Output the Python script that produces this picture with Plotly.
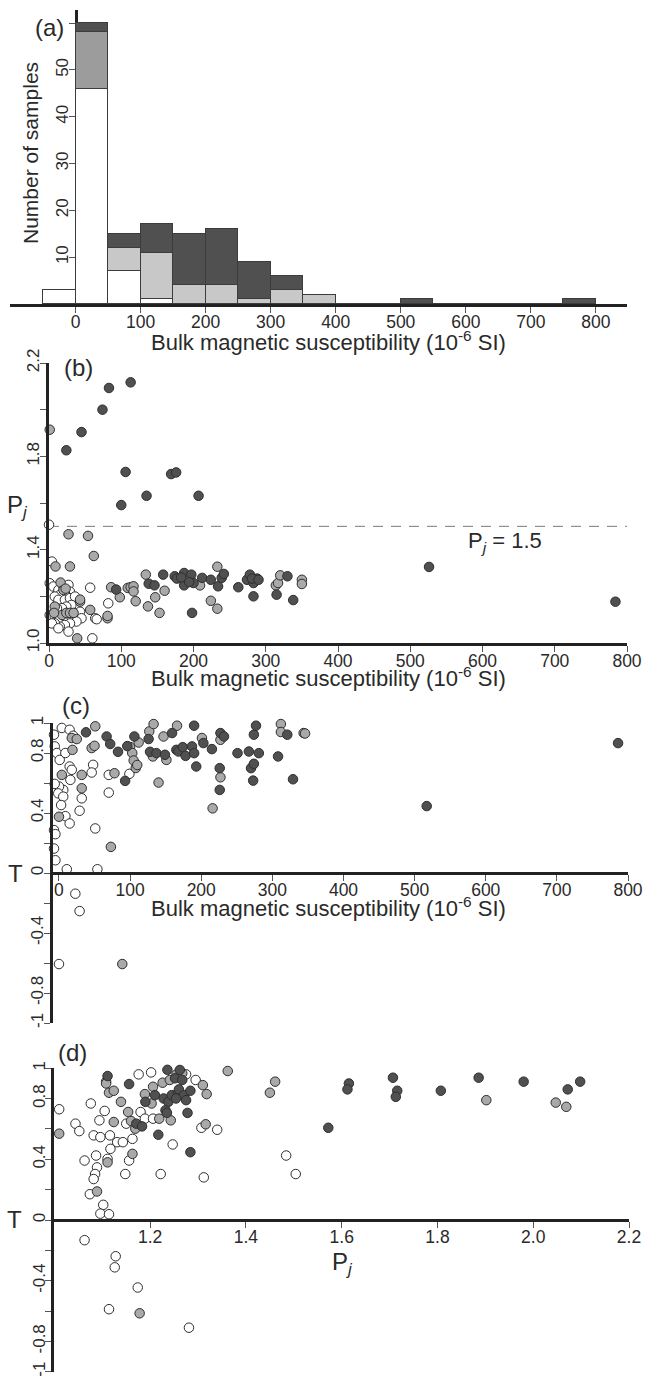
import plotly.graph_objects as go

# ---------------- data ----------------
# (a) histogram, bins of 50 (left edges)
bin_left = [-50, 0, 50, 100, 150, 200, 250, 300, 350, 400, 450, 500, 550, 600, 650, 700, 750]
bin_width = 50
hist_white = [3, 46, 7, 1, 0, 0, 0, 0, 0, 0, 0, 0, 0, 0, 0, 0, 0]
hist_gray = [0, 12, 5, 10, 4, 4, 1, 3, 2, 0, 0, 0, 0, 0, 0, 0, 0]
hist_dark = [0, 2, 3, 6, 11, 12, 8, 3, 0, 0, 0, 1, 0, 0, 0, 0, 1]
hist_ticks = [10, 20, 30, 40, 50, 60]
hist_ticktext = ["10", "20", "30", "40", "50", ""]

# (b) Km vs Pj
b_white = [(-4, 1.524), (0, 1.507), (4, 1.349), (-1, 1.32), (-8, 1.295), (1, 1.256), (-8, 1.227), (-5, 1.185),
           (6, 1.242), (13, 1.227), (20, 1.242), (27, 1.249), (29, 1.22), (22, 1.213), (15, 1.206), (8, 1.199),
           (13, 1.185), (22, 1.185), (29, 1.192), (36, 1.199), (31, 1.163), (24, 1.156), (18, 1.149), (11, 1.149),
           (6, 1.127), (1, 1.12), (8, 1.113), (15, 1.106), (22, 1.113), (29, 1.12), (36, 1.127), (43, 1.134),
           (45, 1.106), (38, 1.092), (29, 1.084), (22, 1.077), (15, 1.07), (8, 1.084), (4, 1.084), (13, 1.063),
           (27, 1.049), (57, 1.237), (82, 1.17), (64, 1.106), (66, 1.102), (60, 1.02), (-9, 1.196), (-6, 1.146)]
b_gray = [(-1, 2.076), (-1, 2.064), (1, 1.914), (27, 1.466), (54, 1.459), (62, 1.373), (29, 1.328), (9, 1.328),
          (16, 1.259), (20, 1.227), (8, 1.156), (18, 1.12), (24, 1.129), (29, 1.129), (34, 1.129), (7, 1.129),
          (43, 1.177), (57, 1.142), (39, 1.02), (81, 1.106), (81, 1.116), (86, 1.239), (98, 1.196), (109, 1.236),
          (113, 1.239), (117, 1.243), (117, 1.221), (120, 1.179), (134, 1.293), (137, 1.157), (147, 1.196),
          (153, 1.129), (160, 1.224), (209, 1.247), (224, 1.181), (233, 1.327), (233, 1.147), (314, 1.247),
          (317, 1.257), (320, 1.29), (350, 1.271), (350, 1.253), (23, 1.233), (43, 1.186)]
b_dark = [(83, 2.093), (113, 2.117), (74, 2.0), (45, 1.904), (24, 1.826), (106, 1.733), (169, 1.724), (176, 1.731),
          (135, 1.631), (207, 1.631), (100, 1.591), (526, 1.326), (784, 1.177), (93, 1.229), (138, 1.254),
          (146, 1.247), (158, 1.293), (174, 1.286), (177, 1.276), (187, 1.30), (187, 1.247), (197, 1.293),
          (200, 1.257), (198, 1.129), (212, 1.279), (224, 1.271), (234, 1.243), (239, 1.279), (242, 1.296),
          (262, 1.239), (274, 1.271), (278, 1.293), (283, 1.257), (283, 1.2), (288, 1.276), (330, 1.286),
          (315, 1.207), (338, 1.184), (183, 1.281), (194, 1.261), (281, 1.276), (290, 1.271)]
pj_threshold = 1.5

# (c) Km vs T
c_white = [(-7, 0.922), (4, 0.967), (15, 0.955), (20, 0.915), (-6, 0.844), (-3, 0.8), (1, 0.754), (9, 0.8),
           (15, 0.71), (6, 0.554), (0, 0.576), (-1, 0.531), (6, 0.509), (-11, 0.587), (-6, 0.594), (-10, 0.487),
           (-11, 0.42), (3, 0.453), (9, 0.379), (15, 0.33), (-12, 0.297), (-7, 0.286), (-5, 0.259), (-7, 0.163),
           (-5, 0.085), (-12, 0.0), (11, 0.025), (54, 0.025), (51, 0.297), (29, 0.415), (32, 0.498), (18, 0.688),
           (16, 0.621), (48, 0.721), (46, 0.67), (70, 0.654), (70, 0.536), (99, 0.661), (23, -0.138),
           (29, -0.254), (-16, -0.328), (-19, -0.462), (0, -0.607), (-19, -0.732)]
c_gray = [(-12, 0.788), (-12, 0.754), (4, 0.654), (0, 0.375), (18, 0.9), (19, 0.821), (25, 0.893), (32, 0.654),
          (32, 0.565), (46, 0.833), (51, 0.978), (50, 0.848), (73, 0.174), (78, 0.665), (90, 1.03), (100, 0.84),
          (103, 0.80), (105, 0.75), (108, 0.70), (112, 0.87), (110, 0.72), (127, 0.944), (133, 0.993),
          (132, 0.777), (140, 0.603), (147, 0.91), (151, 0.754), (166, 0.982), (201, 0.9), (216, 0.431),
          (227, 0.888), (227, 0.638), (312, 0.993), (312, 0.94), (344, 0.933), (346, 0.93), (89, -0.607)]
c_dark = [(38, 0.938), (67, 0.91), (72, 0.86), (83, 0.808), (96, 0.846), (93, 0.614), (106, 0.91), (126, 0.893),
          (128, 0.808), (137, 0.799), (149, 0.788), (159, 0.933), (165, 0.821), (168, 0.81), (174, 0.839),
          (178, 0.781), (187, 0.844), (190, 0.982), (190, 0.799), (193, 0.71), (203, 0.866), (215, 0.826),
          (227, 0.933), (232, 0.91), (226, 0.699), (226, 0.554), (251, 0.799), (267, 0.81), (270, 0.699),
          (274, 0.922), (277, 0.982), (274, 0.728), (273, 0.616), (281, 0.799), (308, 0.777), (321, 0.922),
          (329, 0.625), (517, 0.446), (786, 0.866)]

# (d) Pj vs T
d_white = [(1.01, 0.73), (1.044, 0.635), (1.052, 0.586), (1.063, 0.392), (1.076, 0.768), (1.082, 0.558),
           (1.087, 0.425), (1.089, 0.347), (1.085, 0.303), (1.082, 0.27), (1.074, 0.17), (1.096, 0.546),
           (1.094, 0.657), (1.105, 0.719), (1.116, 0.558), (1.117, 0.469), (1.111, 0.403), (1.131, 0.513),
           (1.143, 0.513), (1.102, 0.1), (1.096, 0.042), (1.114, 0.038), (1.148, 0.303), (1.156, 0.392),
           (1.15, 0.635), (1.163, 0.535), (1.176, 0.96), (1.202, 0.973), (1.18, 0.712), (1.189, 0.668),
           (1.206, 0.668), (1.222, 0.303), (1.247, 0.498), (1.295, 0.923), (1.307, 0.608), (1.312, 0.281),
           (1.34, 0.595), (1.484, 0.425), (1.504, 0.303), (1.063, -0.133), (1.128, -0.239), (1.126, -0.312),
           (1.174, -0.445), (1.114, -0.588), (1.281, -0.71), (1.275, 0.96)]
d_gray = [(1.01, 0.569), (1.108, 0.912), (1.108, 0.9), (1.114, 0.839), (1.124, 0.852), (1.124, 0.646),
          (1.139, 0.779), (1.154, 0.712), (1.16, 0.653), (1.163, 0.436), (1.111, 0.38), (1.089, 0.188),
          (1.169, 0.602), (1.189, 0.83), (1.206, 0.878), (1.203, 0.768), (1.226, 0.905), (1.219, 0.668),
          (1.241, 0.923), (1.243, 0.657), (1.255, 0.96), (1.267, 0.967), (1.31, 0.889), (1.318, 0.83),
          (1.316, 0.631), (1.362, 0.982), (1.45, 0.839), (1.461, 0.912), (1.902, 0.79), (2.047, 0.774),
          (2.069, 0.746), (1.178, -0.615)]
d_dark = [(1.111, 0.949), (1.156, 0.896), (1.19, 0.779), (1.171, 0.635), (1.183, 0.617), (1.217, 0.562),
          (1.21, 0.823), (1.228, 0.801), (1.236, 0.99), (1.238, 0.779), (1.232, 0.723), (1.235, 0.706),
          (1.245, 0.823), (1.252, 0.934), (1.258, 0.834), (1.262, 0.989), (1.267, 0.923), (1.26, 0.861),
          (1.271, 0.823), (1.275, 0.79), (1.278, 0.706), (1.284, 0.852), (1.284, 0.447), (1.254, 0.801),
          (1.572, 0.608), (1.615, 0.9), (1.612, 0.861), (1.707, 0.938), (1.716, 0.852), (1.713, 0.812),
          (1.807, 0.852), (1.886, 0.938), (1.98, 0.912), (2.072, 0.861), (2.098, 0.912)]

km_ticks = [0, 100, 200, 300, 400, 500, 600, 700, 800]
pj_ticks = [1.0, 1.2, 1.4, 1.6, 1.8, 2.0, 2.2]
pj_ticktext = ["1.0", "", "1.4", "", "1.8", "", "2.2"]
t_ticks = [-1, -0.8, -0.6, -0.4, -0.2, 0, 0.2, 0.4, 0.6, 0.8, 1]
t_ticktext = ["-1", "-0.8", "", "-0.4", "", "0", "", "0.4", "", "0.8", "1"]
pjx_ticks = [1.2, 1.4, 1.6, 1.8, 2.0, 2.2]
pjx_ticktext = ["1.2", "1.4", "1.6", "1.8", "2.0", "2.2"]

# ---------------- style ----------------
W, H = 646, 1377
FONT = "Liberation Sans, Arial, sans-serif"
TXT = "#2a2a2a"
AX = "#222222"
C_WHITE, C_GRAY, C_DARK = "#ffffff", "#a9a9a9", "#505050"
H_LIGHT, H_MID = "#c8c8c8", "#9c9c9c"


def fx(px):
    return px / W


def fy(py):
    return 1 - py / H


fig = go.Figure()

# (a) stacked histogram
centers = [b + bin_width / 2 for b in bin_left]
gray_cols = [H_MID if b == 0 else H_LIGHT for b in bin_left]
for vals, col in [(hist_white, C_WHITE), (hist_gray, gray_cols), (hist_dark, C_DARK)]:
    fig.add_trace(go.Bar(x=centers, y=vals, width=bin_width, marker=dict(color=col, line=dict(color="#3c3c3c", width=1)),
                         xaxis="x", yaxis="y", showlegend=False))


def scat(pts, color, xa, ya):
    xs = [p[0] for p in pts]
    ys = [p[1] for p in pts]
    fig.add_trace(go.Scatter(x=xs, y=ys, mode="markers", xaxis=xa, yaxis=ya, cliponaxis=False, showlegend=False,
                             marker=dict(size=9.5, color=color, line=dict(color="#2e2e2e", width=1))))


# (b) threshold line
fig.add_trace(go.Scatter(x=[0, 800], y=[pj_threshold, pj_threshold], mode="lines", xaxis="x2", yaxis="y2",
                         line=dict(color="#7a7a7a", width=1, dash="10px,8px"), showlegend=False))
for pts, col in [(b_white, C_WHITE), (b_gray, C_GRAY), (b_dark, C_DARK)]:
    scat(pts, col, "x2", "y2")
for pts, col in [(c_white, C_WHITE), (c_gray, C_GRAY), (c_dark, C_DARK)]:
    scat(pts, col, "x3", "y3")
for pts, col in [(d_white, C_WHITE), (d_gray, C_GRAY), (d_dark, C_DARK)]:
    scat(pts, col, "x4", "y4")

common = dict(showgrid=False, zeroline=False, showline=True, linecolor=AX, linewidth=3, automargin=False,
              ticks="outside", ticklen=6, tickwidth=1, tickcolor="#555")
xcommon = dict(tickfont=dict(family=FONT, size=17.5, color=TXT), ticklabelstandoff=-6, **common)
ycommon = dict(tickfont=dict(family=FONT, size=17, color=TXT), ticklabelstandoff=-6, tickangle=-90, **common)

fig.update_layout(
    template="none",
    width=W, height=H, margin=dict(l=0, r=0, t=0, b=0, pad=0),
    paper_bgcolor="white", plot_bgcolor="rgba(0,0,0,0)",
    barmode="stack", bargap=0, showlegend=False,
    font=dict(family=FONT, color=TXT),
    # (a)
    xaxis=dict(domain=[fx(10), fx(627)], range=[-101, 848], anchor="y", tickvals=km_ticks, **xcommon),
    yaxis=dict(domain=[fy(304), fy(10)], range=[0, 62.8], anchor="free", position=fx(76),
               tickvals=hist_ticks, ticktext=hist_ticktext, layer="below traces", **ycommon),
    # (b)
    xaxis2=dict(domain=[fx(49), fx(627)], range=[0, 800], anchor="y2", tickvals=km_ticks, **xcommon),
    yaxis2=dict(domain=[fy(643), fy(363)], range=[1.0, 2.2], anchor="x2",
                tickvals=pj_ticks, ticktext=pj_ticktext, **ycommon),
    # (c)
    xaxis3=dict(domain=[fx(53), fx(628)], range=[-8.4, 800], anchor="free", position=fy(873),
                tickvals=km_ticks, **xcommon),
    yaxis3=dict(domain=[fy(1023), fy(723)], range=[-1, 1], anchor="x3",
                tickvals=t_ticks, ticktext=t_ticktext, **ycommon),
    # (d)
    xaxis4=dict(domain=[fx(54.4), fx(629)], range=[1.0, 2.2], anchor="free", position=fy(1219.5),
                tickvals=pjx_ticks, ticktext=pjx_ticktext, **xcommon),
    yaxis4=dict(domain=[fy(1371.7), fy(1068.3)], range=[-1, 1], anchor="x4",
                tickvals=t_ticks, ticktext=t_ticktext, **ycommon),
)

XTITLE = "Bulk magnetic susceptibility (10<sup>-6</sup> SI)"
PJ = "P<sub><i>j</i></sub>"


def ann(text, px, py, size, angle=0, xanchor="center"):
    fig.add_annotation(text=text, x=fx(px), y=fy(py), xref="paper", yref="paper", showarrow=False,
                       xanchor=xanchor, yanchor="middle", textangle=angle,
                       font=dict(family=FONT, size=size, color=TXT))


ann("(a)", 49, 27, 24)
ann("Number of samples", 30, 153, 21, angle=-90)
ann(XTITLE, 328, 341, 22)

ann("(b)", 78, 367, 24)
ann(PJ, 17, 506, 24)
ann(PJ + " = 1.5", 505, 542, 22)
ann(XTITLE, 328, 677, 22)

ann("(c)", 76, 705, 24)
ann("T", 15, 873, 24)
ann(XTITLE, 328, 907, 22)

ann("(d)", 72, 1052, 24)
ann("T", 14, 1219, 24)
ann(PJ, 342, 1263, 24)

fig.write_html("out.html", config={"displayModeBar": False},
               post_script="document.body.style.margin='0px';")
